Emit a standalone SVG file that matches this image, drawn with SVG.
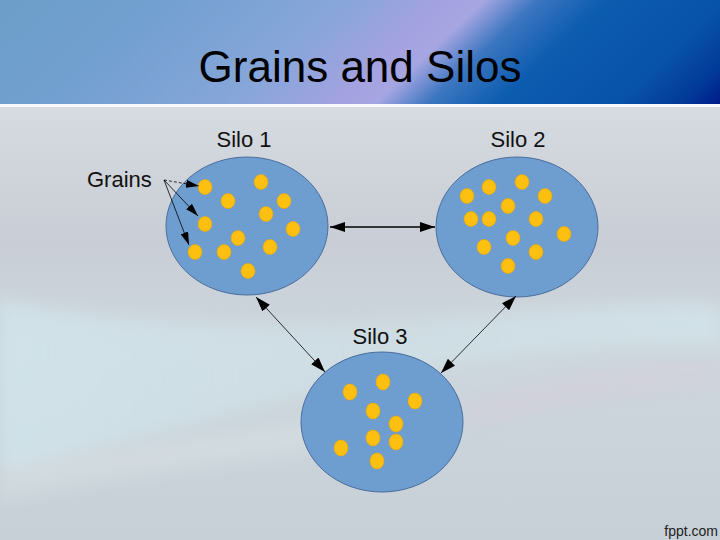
<svg xmlns="http://www.w3.org/2000/svg" width="720" height="540" viewBox="0 0 720 540">
<defs>
<linearGradient id="hdr" gradientUnits="userSpaceOnUse" x1="0" y1="-60" x2="720" y2="700">
<stop offset="0.03" stop-color="#6c9ec8"/>
<stop offset="0.15" stop-color="#72a0d0"/>
<stop offset="0.27" stop-color="#88a6da"/>
<stop offset="0.335" stop-color="#a4a2e0"/>
<stop offset="0.36" stop-color="#a6a6e2"/>
<stop offset="0.395" stop-color="#3c76c0"/>
<stop offset="0.44" stop-color="#0c5cb0"/>
<stop offset="0.52" stop-color="#0852aa"/>
<stop offset="0.56" stop-color="#023a98"/>
<stop offset="0.59" stop-color="#001888"/>
</linearGradient>
<linearGradient id="body" x1="0" y1="0" x2="0" y2="1">
<stop offset="0" stop-color="#f6f7f9"/>
<stop offset="0.03" stop-color="#e4e8ec"/>
<stop offset="0.25" stop-color="#d3d8de"/>
<stop offset="0.45" stop-color="#c9ced6"/>
<stop offset="0.65" stop-color="#cdd7dd"/>
<stop offset="1" stop-color="#c6d0d6"/>
</linearGradient>
<linearGradient id="swoosh" x1="0" y1="0" x2="1" y2="0">
<stop offset="0" stop-color="#d3eaf1" stop-opacity="0.9"/>
<stop offset="0.5" stop-color="#d2e8ef" stop-opacity="0.5"/>
<stop offset="1" stop-color="#d6eef4" stop-opacity="0.7"/>
</linearGradient>
<filter id="soft" x="-10%" y="-50%" width="120%" height="200%">
<feGaussianBlur stdDeviation="8"/>
</filter>
<marker id="ah" viewBox="0 0 15 10" refX="15" refY="5" markerWidth="15" markerHeight="10" markerUnits="userSpaceOnUse" orient="auto-start-reverse">
<path d="M0,0 L15,5 L0,10 z" fill="#000"/>
</marker>
<marker id="ahs" viewBox="0 0 13 8" refX="13" refY="4" markerWidth="13" markerHeight="8" markerUnits="userSpaceOnUse" orient="auto">
<path d="M0,0 L13,4 L0,8 z" fill="#000"/>
</marker>
</defs>
<style>
.silo{fill:#6e9dd0;stroke:#4a6e9c;stroke-width:1}
.grain{fill:#fdbf10;stroke:#f0a800;stroke-width:0.6}
.lbl{font-family:"Liberation Sans",Arial,sans-serif;font-size:22px;fill:#111}
.conn{stroke:#000;fill:none}
</style>
<!-- background -->
<rect x="0" y="0" width="720" height="540" fill="url(#body)"/>
<g filter="url(#soft)">
<path d="M0,300 C150,330 300,330 420,320 C540,310 640,300 720,305 L720,345 C620,340 520,350 420,370 C280,400 140,440 0,470 Z" fill="url(#swoosh)" opacity="0.7"/>
<path d="M470,400 C560,370 650,360 720,360 L720,390 C640,395 560,405 470,430 Z" fill="#d9c9dc" opacity="0.35"/>
<path d="M0,470 C150,440 300,420 450,410 L450,440 C300,450 150,470 0,500 Z" fill="#e2e8ec" opacity="0.35"/>
</g>
<rect x="0" y="0" width="720" height="104" fill="url(#hdr)"/>
<rect x="0" y="104" width="720" height="3" fill="#ffffff" opacity="0.8"/>
<text x="360" y="82" text-anchor="middle" font-family="'Liberation Sans',Arial,sans-serif" font-size="44" fill="#000">Grains and Silos</text>
<text x="718" y="536" text-anchor="end" font-family="'Liberation Sans',Arial,sans-serif" font-size="14" fill="#222">fppt.com</text>

<g id="silo1">
<ellipse class="silo" cx="247" cy="226" rx="81" ry="69"/>
<text class="lbl" x="244" y="147" text-anchor="middle">Silo 1</text>
<ellipse class="grain" cx="205" cy="187" rx="7" ry="7.5"/>
<ellipse class="grain" cx="261" cy="182" rx="7" ry="7.5"/>
<ellipse class="grain" cx="228" cy="201" rx="7" ry="7.5"/>
<ellipse class="grain" cx="284" cy="201" rx="7" ry="7.5"/>
<ellipse class="grain" cx="266" cy="214" rx="7" ry="7.5"/>
<ellipse class="grain" cx="205" cy="224" rx="7" ry="7.5"/>
<ellipse class="grain" cx="293" cy="229" rx="7" ry="7.5"/>
<ellipse class="grain" cx="238" cy="238" rx="7" ry="7.5"/>
<ellipse class="grain" cx="195" cy="252" rx="7" ry="7.5"/>
<ellipse class="grain" cx="224" cy="252" rx="7" ry="7.5"/>
<ellipse class="grain" cx="270" cy="247" rx="7" ry="7.5"/>
<ellipse class="grain" cx="248" cy="271" rx="7" ry="7.5"/>
</g>

<g id="silo2">
<ellipse class="silo" cx="517" cy="227" rx="81" ry="70"/>
<text class="lbl" x="518" y="147" text-anchor="middle">Silo 2</text>
<ellipse class="grain" cx="467" cy="196" rx="7" ry="7.5"/>
<ellipse class="grain" cx="489" cy="187" rx="7" ry="7.5"/>
<ellipse class="grain" cx="522" cy="182" rx="7" ry="7.5"/>
<ellipse class="grain" cx="545" cy="196" rx="7" ry="7.5"/>
<ellipse class="grain" cx="508" cy="206" rx="7" ry="7.5"/>
<ellipse class="grain" cx="471" cy="219" rx="7" ry="7.5"/>
<ellipse class="grain" cx="489" cy="219" rx="7" ry="7.5"/>
<ellipse class="grain" cx="536" cy="219" rx="7" ry="7.5"/>
<ellipse class="grain" cx="564" cy="234" rx="7" ry="7.5"/>
<ellipse class="grain" cx="513" cy="238" rx="7" ry="7.5"/>
<ellipse class="grain" cx="484" cy="247" rx="7" ry="7.5"/>
<ellipse class="grain" cx="536" cy="252" rx="7" ry="7.5"/>
<ellipse class="grain" cx="508" cy="266" rx="7" ry="7.5"/>
</g>

<g id="silo3">
<ellipse class="silo" cx="382" cy="422" rx="81" ry="70"/>
<text class="lbl" x="380" y="344" text-anchor="middle">Silo 3</text>
<ellipse class="grain" cx="350" cy="392" rx="7" ry="8"/>
<ellipse class="grain" cx="383" cy="382" rx="7" ry="8"/>
<ellipse class="grain" cx="415" cy="401" rx="7" ry="8"/>
<ellipse class="grain" cx="373" cy="411" rx="7" ry="8"/>
<ellipse class="grain" cx="396" cy="424" rx="7" ry="8"/>
<ellipse class="grain" cx="373" cy="438" rx="7" ry="8"/>
<ellipse class="grain" cx="396" cy="442" rx="7" ry="8"/>
<ellipse class="grain" cx="341" cy="448" rx="7" ry="8"/>
<ellipse class="grain" cx="377" cy="461" rx="7" ry="8"/>
</g>

<g id="grains-label">
<text class="lbl" x="87" y="187">Grains</text>
</g>

<g id="connectors">
<line class="conn" x1="330" y1="227" x2="435" y2="227" stroke-width="1.5" marker-start="url(#ah)" marker-end="url(#ah)"/>
<line class="conn" x1="256" y1="297" x2="325" y2="372" stroke-width="0.8" marker-start="url(#ah)" marker-end="url(#ah)"/>
<line class="conn" x1="516" y1="296" x2="441" y2="373" stroke-width="0.8" marker-start="url(#ah)" marker-end="url(#ah)"/>
<line class="conn" x1="164" y1="180" x2="199" y2="186" stroke-width="0.8" stroke-dasharray="3,2" marker-end="url(#ahs)"/>
<line class="conn" x1="164" y1="180" x2="198" y2="216" stroke-width="0.8" marker-end="url(#ahs)"/>
<line class="conn" x1="164" y1="180" x2="189" y2="245" stroke-width="0.8" marker-end="url(#ahs)"/>
</g>
</svg>
